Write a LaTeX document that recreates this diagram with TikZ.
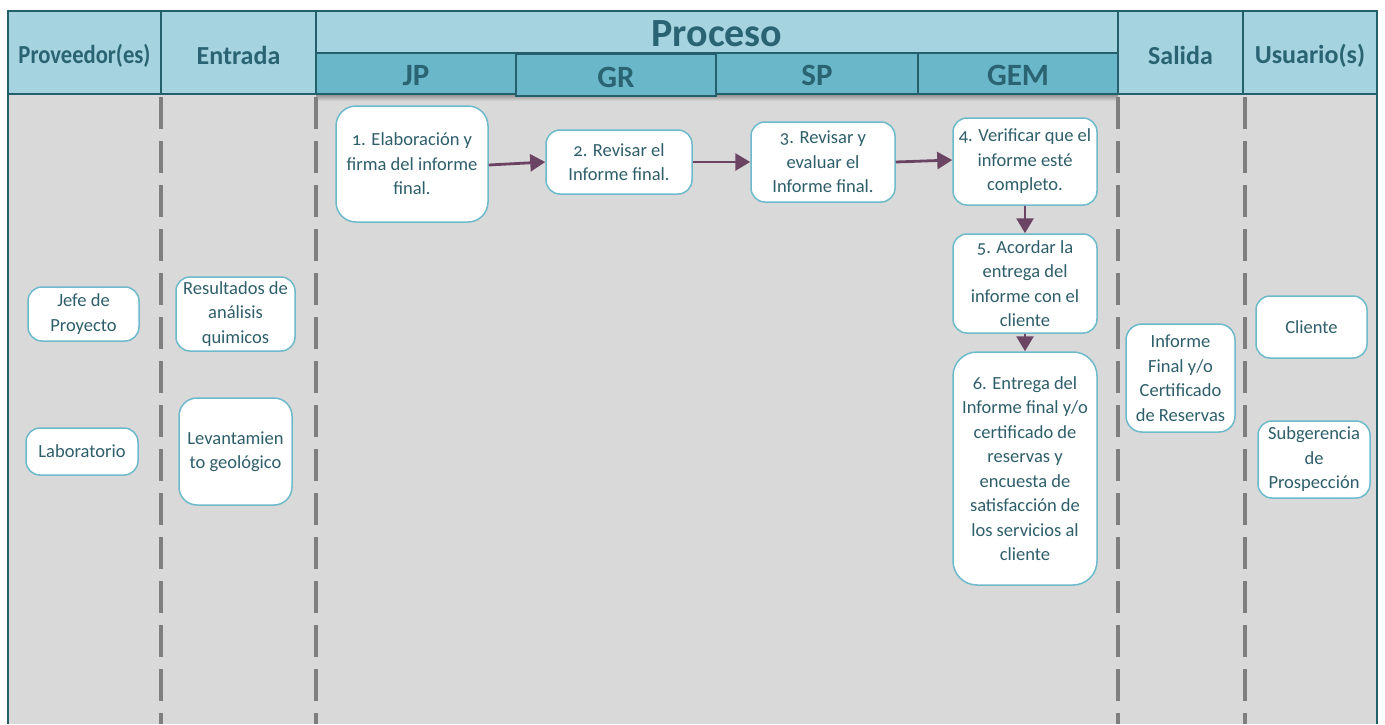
\documentclass[tikz,border=0pt]{standalone}
\usepackage{fontspec}
\setmainfont{Carlito}[Numbers=OldStyle]
\newfontfamily\headfont{Carlito}
\usetikzlibrary{arrows.meta}
\definecolor{hdrlight}{HTML}{A5D3DF}
\definecolor{hdrdark}{HTML}{6BB7CA}
\definecolor{hdrline}{HTML}{245F6C}
\definecolor{hdrtext}{HTML}{2A6473}
\definecolor{bodygray}{HTML}{D9D9D9}
\definecolor{sepgray}{HTML}{7F7F7F}
\definecolor{boxline}{HTML}{6DBACB}
\definecolor{boxtext}{HTML}{2E5E6A}
\definecolor{arrowcol}{HTML}{6B4463}
\newcommand{\lowertxt}[2]{\raisebox{-#1}[\height][\depth]{#2}}
\tikzset{
  hdrcell/.style={draw=hdrline, line width=1.4pt, fill=hdrlight, anchor=north west,
    inner sep=0pt, outer sep=0pt, text=hdrtext, font=\headfont\bfseries\fontsize{26}{30}\selectfont},
  lanecell/.style={hdrcell, fill=hdrdark, font=\headfont\bfseries\fontsize{31}{34}\selectfont},
  procbox/.style={draw=boxline, line width=1.5pt, fill=white, rounded corners=14pt,
    align=center, text=boxtext, inner sep=0pt, font=\fontsize{18.5}{24.5}\selectfont},
  lanesep/.style={draw=sepgray, line width=4pt, dash pattern=on 32pt off 12pt},
  flow/.style={draw=arrowcol, line width=2.8pt, -{Triangle[length=15pt,width=17pt]}}
}
\begin{document}
\begin{tikzpicture}[x=1pt,y=-1pt]
\useasboundingbox (0,0) rectangle (1385,724);
\fill[white] (0,0) rectangle (1385,724);
% body
\fill[bodygray] (8,94) rectangle (1377,724);
\shade[top color=black!45, bottom color=bodygray] (316,94) rectangle (1118,101);
\draw[hdrline, line width=1.4pt] (8,94) -- (8,724);
\draw[hdrline, line width=1.4pt] (1377,94) -- (1377,724);
% separators
\draw[lanesep] (161,97) -- (161,724);
\draw[lanesep] (316,97) -- (316,724);
\draw[lanesep] (1118,97) -- (1118,724);
\draw[lanesep] (1245,97) -- (1245,724);
% header
\node[hdrcell, minimum width=153pt, minimum height=83pt] (hprov) at (8,11) {\lowertxt{3pt}{\scalebox{0.87}[1]{Proveedor(es)}}};
\node[hdrcell, minimum width=155pt, minimum height=83pt] (hent) at (161,11) {\lowertxt{3pt}{Entrada}};
\node[hdrcell, minimum width=802pt, minimum height=42pt, font=\headfont\bfseries\fontsize{40}{44}\selectfont] (hproc) at (316,11) {\lowertxt{2pt}{Proceso}};
\node[lanecell, minimum width=200pt, minimum height=41pt] (hjp) at (316,53) {\lowertxt{2pt}{JP}};
\node[lanecell, minimum width=200pt, minimum height=42pt] (hgr) at (516,54) {\lowertxt{2pt}{GR}};
\node[lanecell, minimum width=202pt, minimum height=41pt] (hsp) at (716,53) {\lowertxt{2pt}{SP}};
\node[lanecell, minimum width=200pt, minimum height=41pt] (hgem) at (918,53) {\lowertxt{2pt}{GEM}};
\node[hdrcell, minimum width=125pt, minimum height=83pt] (hsal) at (1118,11) {\lowertxt{3pt}{Salida}};
\node[hdrcell, minimum width=134pt, minimum height=83pt] (husu) at (1243,11) {\lowertxt{3pt}{Usuario(s)}};
% process boxes
\node[procbox, rounded corners=20pt, minimum width=152pt, minimum height=116pt] (n1) at (412,164) {1. Elaboración y\\firma del informe\\final.};
\node[procbox, minimum width=146pt, minimum height=64pt] (n2) at (619,162) {2. Revisar el\\Informe final.};
\node[procbox, minimum width=144pt, minimum height=80pt] (n3) at (823,162) {3. Revisar y\\evaluar el\\Informe final.};
\node[procbox, minimum width=144pt, minimum height=87pt] (n4) at (1025,161.5) {4. Verificar que el\\informe esté\\completo.};
\node[procbox, minimum width=144pt, minimum height=99pt] (n5) at (1025,283.5) {5. Acordar la\\entrega del\\informe con el\\cliente};
\node[procbox, rounded corners=24pt, minimum width=144pt, minimum height=233pt] (n6) at (1025,468.5) {6. Entrega del\\Informe final y/o\\certificado de\\reservas y\\encuesta de\\satisfacción de\\los servicios al\\cliente};
% side boxes
\node[procbox, minimum width=111pt, minimum height=54pt] (jefe) at (83.5,314) {Jefe de\\Proyecto};
\node[procbox, minimum width=112pt, minimum height=47pt] (lab) at (82,451.5) {Laboratorio};
\node[procbox, minimum width=119pt, minimum height=74pt] (res) at (235.5,314) {Resultados de\\análisis\\quimicos};
\node[procbox, rounded corners=18pt, minimum width=113pt, minimum height=107pt] (lev) at (235.5,451.5) {Levantamien\\to geológico};
\node[procbox, rounded corners=16pt, minimum width=109pt, minimum height=108pt] (inf) at (1180.5,378) {Informe\\Final y/o\\Certificado\\de Reservas};
\node[procbox, minimum width=111pt, minimum height=62pt] (cli) at (1311.5,327) {Cliente};
\node[procbox, minimum width=112pt, minimum height=77pt] (sub) at (1314,459.5) {Subgerencia\\de\\Prospección};
% arrows
\draw[flow] ([yshift=-1pt]n1.east) -- (n2.west);
\draw[flow] (n2.east) -- (n3.west);
\draw[flow] (n3.east) -- ([yshift=1.5pt]n4.west);
\draw[flow] (n4.south) -- (n5.north);
\draw[flow] (n5.south) -- (n6.north);
\end{tikzpicture}
\end{document}
